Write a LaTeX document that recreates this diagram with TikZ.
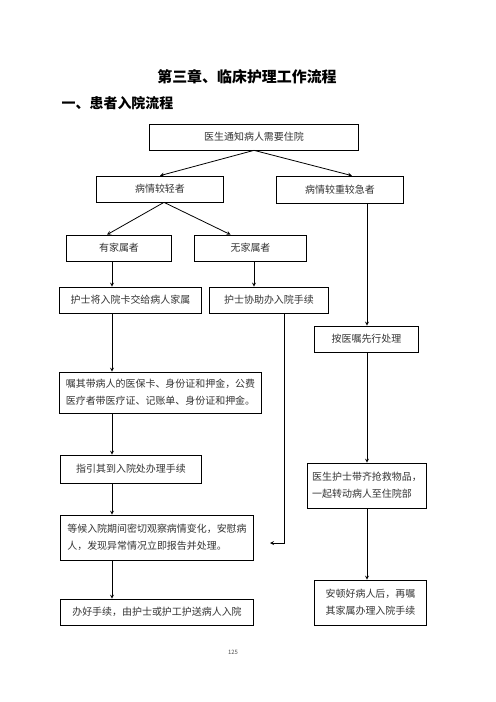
\documentclass[tikz,border=0pt]{standalone}
\usepackage{fontspec}
\setmainfont{Noto Sans CJK SC}
\usetikzlibrary{arrows}

\begin{document}
\begin{tikzpicture}[>=stealth, x=1bp, y=-1bp, line width=0.8,
  box/.style={draw, minimum height=26, inner sep=0,
    align=center, text=black!80, font=\fontsize{10}{17}\selectfont},
  tall/.style={box, align=left, minimum height=45}]

\useasboundingbox (0,0) rectangle (496,702);

% Headings
\node (title) at (247,77) {\fontsize{15}{18}\selectfont\bfseries 第三章、临床护理工作流程};
\node[anchor=west] (sub) at (58,103) {\fontsize{14}{17}\selectfont\bfseries 一、患者入院流程};

% Nodes (placed at coordinates)
\node[box, minimum width=210] (notify) at (254,137) {医生通知病人需要住院};

\node[box, minimum width=128] (light) at (160,189) {病情较轻者};
\node[box, minimum width=128, minimum height=27] (heavy) at (340,189.5) {病情较重较急者};

\node[box, minimum width=106] (family) at (119,248) {有家属者};
\node[box, minimum width=113] (nofamily) at (250.5,248) {无家属者};

\node[box, minimum width=143] (card) at (130.5,300) {护士将入院卡交给病人家属};
\node[box, minimum width=120] (help) at (269,300) {护士协助办入院手续};

\node[box, minimum width=105] (order) at (366.5,339) {按医嘱先行处理};

\node[tall, minimum width=203, minimum height=41] (bring) at (160.5,392.5)
  {嘱其带病人的医保卡、身份证和押金，公费\\医疗者带医疗证、记账单、身份证和押金。};
\node[box, minimum width=142, minimum height=28] (guide) at (131,469) {指引其到入院处办理手续};
\node[tall, minimum width=194] (wait) at (157,537.5)
  {等候入院期间密切观察病情变化，安慰病\\人，发现异常情况立即报告并处理。};
\node[box, minimum width=194] (done) at (157,612) {办好手续，由护士或护工护送病人入院};

\node[tall, minimum width=120] (rescue) at (367,485.5)
  {医生护士带齐抢救物品，\\一起转动病人至住院部};
\node[box, minimum width=113, minimum height=45] (settle) at (370.5,602.5)
  {安顿好病人后，再嘱\\其家属办理入院手续};

\node[font=\fontsize{6}{7}\selectfont, text=black!70] (page) at (233,652) {125};

% Column lines
\coordinate (lc) at (112,0);
\coordinate (mc) at (254,0);
\coordinate (rc) at (284,0);
\coordinate (ec) at (367,0);
\coordinate (back) at (270,543);

% Directed arrows
\draw[->] (notify.south) -- (light.north);
\draw[->] (notify.south) -- ([xshift=12]heavy.north);

\draw[->] ([xshift=4]light.south) -- ([xshift=-12]family.north);
\draw[->] ([xshift=4]light.south) -- ([xshift=-20]nofamily.north);

\draw[->] (family.south -| lc) -- (card.north -| lc);
\draw[->] (nofamily.south -| mc) -- (help.north -| mc);

\draw[->] (card.south -| lc) -- (bring.north -| lc);
\draw[->] (bring.south -| lc) -- (guide.north -| lc);
\draw[->] (guide.south -| lc) -- (wait.north -| lc);
\draw[->] (wait.south -| lc) -- (done.north -| lc);

\draw[->] (help.south -| rc) |- (back);

\draw[->] (heavy.south -| ec) -- (order.north -| ec);
\draw[->] (order.south -| ec) -- (rescue.north -| ec);
\draw[->] (rescue.south -| ec) -- (settle.north -| ec);

\end{tikzpicture}
\end{document}
